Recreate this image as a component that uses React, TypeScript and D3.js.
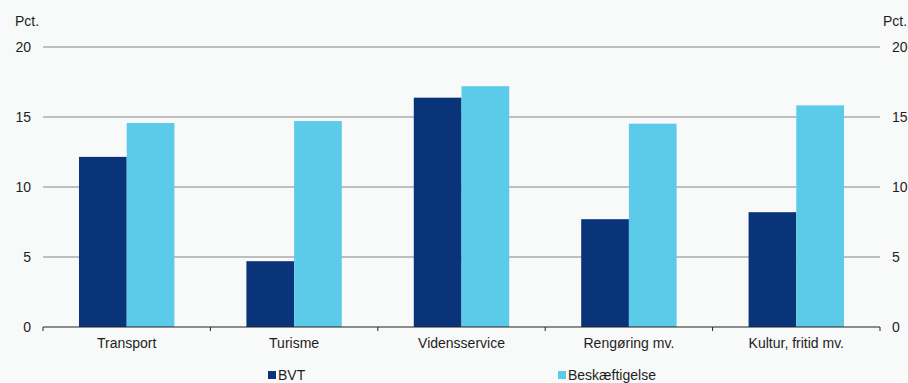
import React from "react";
import * as d3 from "d3";

const categories = ["Transport", "Turisme", "Vidensservice", "Rengøring mv.", "Kultur, fritid mv."];
const seriesNames = ["BVT", "Beskæftigelse"];
const bvt = [12.15, 4.7, 16.38, 7.7, 8.2];
const beskaeftigelse = [14.57, 14.71, 17.2, 14.52, 15.83];
const yTicks = [0, 5, 10, 15, 20];
const colors = ["#0a347a", "#5ccbea"];

const W = 908;
const H = 383;
const left = 43;
const right = 880;
const top = 47;
const bottom = 327;
const font = "'Liberation Sans', Arial, sans-serif";
const textColor = "#1e1e1e";

export default function App() {
  const x = d3.scaleBand<string>().domain(categories).range([left, right]).paddingInner(0).paddingOuter(0);
  const y = d3.scaleLinear().domain([0, 20]).range([bottom, top]);
  const groupW = x.bandwidth() * 0.57;
  const x1 = d3.scaleBand<number>().domain([0, 1]).range([0, groupW]);
  const series = [bvt, beskaeftigelse];
  const boundaries = [...categories.map((c) => x(c)!), right];

  return (
    <svg
      width={W}
      height={H}
      style={{ position: "absolute", left: 0, top: 0, fontFamily: font }}
    >
      <rect x={0} y={0} width={W} height={H} fill="#f8f9f9" />
      {yTicks.filter((t) => t > 0).map((t) => (
        <line key={t} x1={left} x2={right} y1={y(t)} y2={y(t)} stroke="#ababab" strokeWidth={1.3} />
      ))}
      {categories.map((c, i) => {
        const gx = x(c)! + (x.bandwidth() - groupW) / 2;
        return series.map((s, k) => (
          <rect
            key={c + k}
            x={gx + x1(k)!}
            y={y(s[i])}
            width={x1.bandwidth()}
            height={y(0) - y(s[i])}
            fill={colors[k]}
          />
        ));
      })}
      <line x1={left} x2={right} y1={bottom} y2={bottom} stroke="#222" strokeWidth={1.2} />
      {boundaries.map((b, i) => (
        <line key={i} x1={b} x2={b} y1={bottom} y2={bottom + 4} stroke="#222" strokeWidth={1} />
      ))}
      {yTicks.map((t) => (
        <g key={t} fontSize={14} fill={textColor}>
          <text x={31} y={y(t) + 5} textAnchor="end">{t}</text>
          <text x={892} y={y(t) + 5} textAnchor="start">{t}</text>
        </g>
      ))}
      <text x={15} y={26} fontSize={14} fill={textColor}>Pct.</text>
      <text x={883} y={26} fontSize={14} fill={textColor}>Pct.</text>
      {categories.map((c) => (
        <text
          key={c}
          x={x(c)! + x.bandwidth() / 2}
          y={348}
          fontSize={14}
          fill={textColor}
          textAnchor="middle"
        >
          {c}
        </text>
      ))}
      {seriesNames.map((n, k) => {
        const lx = k === 0 ? 268 : 558;
        return (
          <g key={n}>
            <rect x={lx} y={371} width={8} height={8} fill={colors[k]} />
            <text x={lx + 10} y={380} fontSize={14} fill={textColor}>{n}</text>
          </g>
        );
      })}
    </svg>
  );
}
